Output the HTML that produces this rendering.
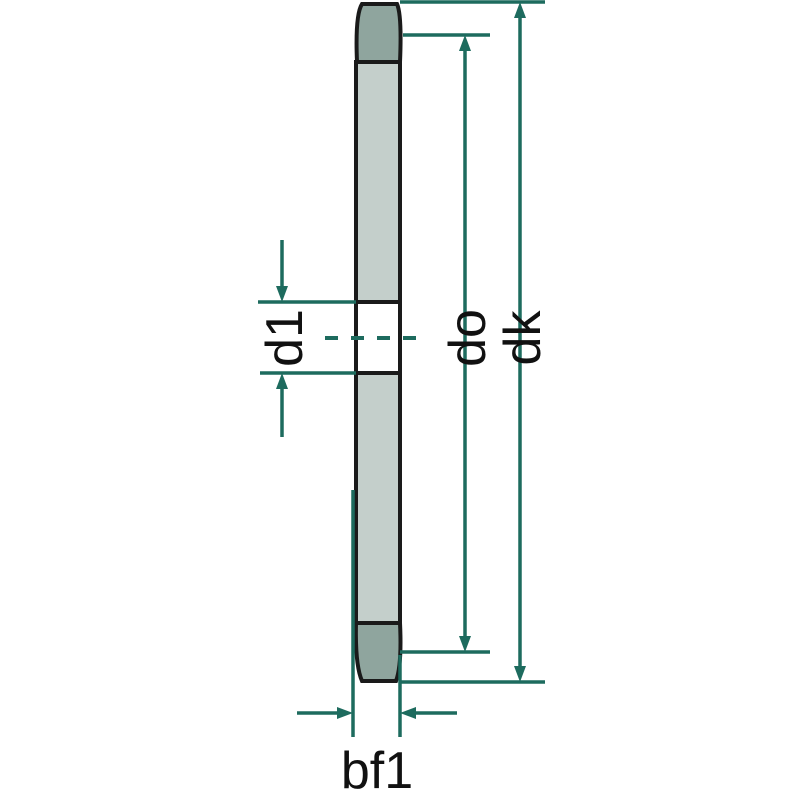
<!DOCTYPE html>
<html><head><style>html,body{margin:0;padding:0;background:#fff}</style></head>
<body>
<svg width="800" height="800" viewBox="0 0 800 800" xmlns="http://www.w3.org/2000/svg">
<path d="M357,62 Q355,15 362,4 L397,4 Q402,15 400,62 Z" fill="#8fa59e" stroke="#1a1a1a" stroke-width="4"/>
<rect x="356" y="62" width="44" height="240" fill="#c4cfcb" stroke="#1a1a1a" stroke-width="4"/>
<rect x="356" y="302" width="44" height="71" fill="#fff" stroke="#1a1a1a" stroke-width="4"/>
<rect x="356" y="373" width="44" height="250" fill="#c4cfcb" stroke="#1a1a1a" stroke-width="4"/>
<path d="M356,623 L400,623 Q402,665 396,681 L362,681 Q355,665 356,623 Z" fill="#8fa59e" stroke="#1a1a1a" stroke-width="4"/>
<g stroke="#1d6b5e" stroke-width="3.5" fill="none">
<line x1="400" y1="2" x2="545" y2="2"/>
<line x1="400" y1="682" x2="545" y2="682"/>
<line x1="520" y1="14" x2="520" y2="670"/>
<line x1="403" y1="35" x2="490" y2="35"/>
<line x1="400" y1="652" x2="490" y2="652"/>
<line x1="465" y1="47" x2="465" y2="640"/>
<line x1="258" y1="302" x2="356" y2="302"/>
<line x1="260" y1="373" x2="356" y2="373"/>
<line x1="282" y1="240" x2="282" y2="290"/>
<line x1="282" y1="385" x2="282" y2="437"/>
<line x1="325" y1="338" x2="420" y2="338" stroke-dasharray="13,13" stroke-width="4"/>
<line x1="353" y1="490" x2="353" y2="737"/>
<line x1="400" y1="655" x2="400" y2="737"/>
<line x1="297" y1="713" x2="341" y2="713"/>
<line x1="412" y1="713" x2="457" y2="713"/>
</g>
<g fill="#1d6b5e">
<polygon points="520,2 514,18 526,18"/>
<polygon points="520,682 514,666 526,666"/>
<polygon points="465,35 459,51 471,51"/>
<polygon points="465,652 459,636 471,636"/>
<polygon points="282,302 276,286 288,286"/>
<polygon points="282,373 276,389 288,389"/>
<polygon points="353,713 337,707 337,719"/>
<polygon points="400,713 416,707 416,719"/>
</g>
<g font-family="Liberation Sans, sans-serif" font-size="52" fill="#111">
<text transform="translate(302,338) rotate(-90)" text-anchor="middle">d1</text>
<text transform="translate(485,338) rotate(-90)" text-anchor="middle">do</text>
<text transform="translate(540,338) rotate(-90)" text-anchor="middle">dk</text>
<text x="377" y="788" text-anchor="middle">bf1</text>
</g>
</svg>
</body></html>
